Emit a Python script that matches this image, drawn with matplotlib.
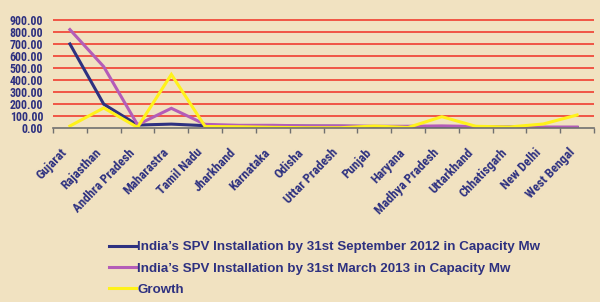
import matplotlib
matplotlib.use("Agg")
import matplotlib.pyplot as plt
import matplotlib.transforms as mtransforms

states = ["Gujarat", "Rajasthan", "Andhra Pradesh", "Maharastra", "Tamil Nadu",
          "Jharkhand", "Karnataka", "Odisha", "Uttar Pradesh", "Punjab", "Haryana",
          "Madhya Pradesh", "Uttarkhand", "Chhatisgarh", "New Delhi", "West Bengal"]
sep2012 = [700, 197, 22, 30, 17, 16, 14, 13, 12, 9, 8, 5, 5, 4, 2, 2]
mar2013 = [820, 510, 25, 162, 28, 20, 20, 15, 15, 12, 12, 15, 10, 6, 5, 5]
growth = [14, 165, 3, 445, 10, 8, 3, 0, 0, 14, 2, 92, 12, 6, 31, 106]
series_labels = ["India\u2019s SPV Installation by 31st September 2012 in Capacity Mw",
                 "India\u2019s SPV Installation by 31st March 2013 in Capacity Mw",
                 "Growth"]
yticks = [0, 100, 200, 300, 400, 500, 600, 700, 800, 900]

tickfam = ["Roboto Condensed", "DejaVu Sans"]
legfam = ["Liberation Sans", "DejaVu Sans"]
navy = "#2E3180"
bg = "#F1E2C1"

fig = plt.figure(figsize=(6.0, 3.02), dpi=100, facecolor=bg)
ax = fig.add_axes([53/600, 1-127.7/302, (594-53)/600, (127.7-18.8)/302])
ax.set_facecolor("none")

x = list(range(len(states)))
l1, = ax.plot(x, sep2012, color=navy, lw=2.2, solid_joinstyle="miter")
l2, = ax.plot(x, mar2013, color="#B45CB8", lw=2.2, solid_joinstyle="miter")
l3, = ax.plot(x, growth, color="#FFF21A", lw=2.2, solid_joinstyle="miter")

ax.set_xlim(-0.5, len(states)-0.5)
ax.set_ylim(0, 910)
for y in yticks[1:]:
    ax.axhline(y, color="#F04B3C", lw=1.3, zorder=0)

ax.set_yticks(yticks)
ax.set_yticklabels([f"{v:.2f}" for v in yticks], fontfamily=tickfam, fontweight="bold",
                   fontsize=8.6, color=navy)
ax.tick_params(axis="y", length=0, pad=7)

ax.set_xticks([i - 0.5 for i in range(len(states)+1)])
ax.set_xticklabels([])
ax.tick_params(axis="x", which="major", length=3.5, width=1, color="#707070", direction="out")
ax.set_xticks(x, minor=True)
ax.set_xticklabels(states, minor=True, rotation=46, ha="right", va="center",
                   rotation_mode="anchor",
                   fontfamily=tickfam, fontweight="bold", fontsize=9.3, color=navy)
ax.tick_params(axis="x", which="minor", length=0, pad=16.5)
shift = mtransforms.ScaledTranslation(-4.5/100, 0, fig.dpi_scale_trans)
for lab in ax.get_xticklabels(minor=True):
    lab.set_transform(lab.get_transform() + shift)

for s in ["top", "right", "left"]:
    ax.spines[s].set_visible(False)
ax.spines["bottom"].set_color("#707070")
ax.spines["bottom"].set_linewidth(1.2)

leg = fig.legend([l1, l2, l3], series_labels, loc="upper left",
                 bbox_to_anchor=(97/600, 1-229/302), frameon=False,
                 handlelength=2.0, handletextpad=0.12, labelspacing=0.68,
                 prop={"family": legfam, "weight": "bold", "size": 9.6})
for t in leg.get_texts():
    t.set_color(navy)

fig.savefig("out.png", dpi=100, facecolor=bg)
